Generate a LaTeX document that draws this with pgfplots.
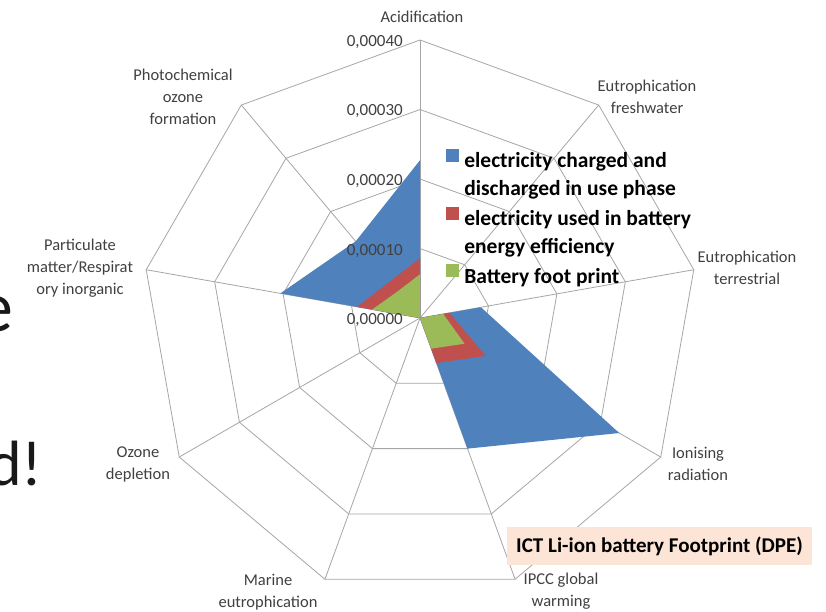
\documentclass[border=0pt]{standalone}
\usepackage{fontspec}
\setmainfont{Carlito}
\usepackage{pgfplots}
\pgfplotsset{compat=1.18}
\usepgfplotslibrary{polar}
\definecolor{cblue}{HTML}{4F81BD}
\definecolor{cred}{HTML}{C0504D}
\definecolor{cgreen}{HTML}{9BBB59}
\definecolor{cgrid}{HTML}{A6A6A6}
\definecolor{cbox}{HTML}{FCE4D6}
\definecolor{ctext}{HTML}{404040}
\begin{document}
\begin{tikzpicture}
\path[use as bounding box, fill=white] (0pt,0pt) rectangle (826pt,-612pt);
% fragments of slide text behind the chart
\node[anchor=base east, inner sep=0pt, font=\fontsize{72}{72}\selectfont, text=black!90] at (14pt,-331pt) {e};
\node[anchor=base east, inner sep=0pt, font=\fontsize{64}{64}\selectfont, text=black!90] at (43pt,-485pt) {d!};
\begin{polaraxis}[
  at={(420pt,-318pt)}, anchor=center,
  scale only axis, width=556pt, height=556pt,
  xmin=0, xmax=360, ymin=0, ymax=0.0004,
  xtick=\empty, ytick=\empty,
  axis line style={draw=none},
  clip=false,
  legend style={at={(0.547,0.805)}, anchor=north west, draw=none, fill=none,
    inner sep=0pt, font=\bfseries\fontsize{21.5}{26}\selectfont, row sep=7.5pt,
    column sep=3pt, cells={anchor=west}},
  legend image code/.code={\fill[#1] (0pt,-1pt) rectangle (13pt,12pt);},
]
% polygonal grid rings
\addplot[cgrid, line width=0.8pt, forget plot] coordinates {(90,0.0001)(50,0.0001)(10,0.0001)(330,0.0001)(290,0.0001)(250,0.0001)(210,0.0001)(170,0.0001)(130,0.0001)(90,0.0001)};
\addplot[cgrid, line width=0.8pt, forget plot] coordinates {(90,0.0002)(50,0.0002)(10,0.0002)(330,0.0002)(290,0.0002)(250,0.0002)(210,0.0002)(170,0.0002)(130,0.0002)(90,0.0002)};
\addplot[cgrid, line width=0.8pt, forget plot] coordinates {(90,0.0003)(50,0.0003)(10,0.0003)(330,0.0003)(290,0.0003)(250,0.0003)(210,0.0003)(170,0.0003)(130,0.0003)(90,0.0003)};
\addplot[cgrid, line width=0.8pt, forget plot] coordinates {(90,0.0004)(50,0.0004)(10,0.0004)(330,0.0004)(290,0.0004)(250,0.0004)(210,0.0004)(170,0.0004)(130,0.0004)(90,0.0004)};
% spokes
\addplot[cgrid, line width=0.8pt, forget plot] coordinates {(90,0)(90,0.0004)};
\addplot[cgrid, line width=0.8pt, forget plot] coordinates {(50,0)(50,0.0004)};
\addplot[cgrid, line width=0.8pt, forget plot] coordinates {(10,0)(10,0.0004)};
\addplot[cgrid, line width=0.8pt, forget plot] coordinates {(330,0)(330,0.0004)};
\addplot[cgrid, line width=0.8pt, forget plot] coordinates {(290,0)(290,0.0004)};
\addplot[cgrid, line width=0.8pt, forget plot] coordinates {(250,0)(250,0.0004)};
\addplot[cgrid, line width=0.8pt, forget plot] coordinates {(210,0)(210,0.0004)};
\addplot[cgrid, line width=0.8pt, forget plot] coordinates {(170,0)(170,0.0004)};
\addplot[cgrid, line width=0.8pt, forget plot] coordinates {(130,0)(130,0.0004)};
% series (angle = category, radius = value)
\addplot[draw=none, fill=cblue] coordinates {(90,0.000227)(50,0)(10,0.000089)(330,0.000331)(290,0.000200)(250,0)(210,0)(170,0.000204)(130,0.000144)(90,0.000227)};
\addlegendentry{electricity charged and}
\addlegendimage{empty legend}
\addlegendentry{discharged in use phase}
\addplot[draw=none, fill=cred] coordinates {(90,0.000086)(50,0)(10,0.000043)(330,0.000109)(290,0.000069)(250,0)(210,0)(170,0.000092)(130,0.000068)(90,0.000086)};
\addlegendentry{electricity used in battery}
\addlegendimage{empty legend}
\addlegendentry{energy efficiency}
\addplot[draw=none, fill=cgreen] coordinates {(90,0.000063)(50,0)(10,0.000034)(330,0.000074)(290,0.000047)(250,0)(210,0)(170,0.000070)(130,0.000050)(90,0.000063)};
\addlegendentry{Battery foot print}
\end{polaraxis}
% radial tick labels
\begin{scope}[every node/.style={anchor=east, inner sep=0pt, text=ctext, font=\fontsize{17}{17}\selectfont}]
\node at (403pt,-320pt) {0,00000};
\node at (403pt,-251pt) {0,00010};
\node at (403pt,-181pt) {0,00020};
\node at (403pt,-111pt) {0,00030};
\node at (403pt,-42pt) {0,00040};
\end{scope}
% category labels
\begin{scope}[every node/.style={align=center, inner sep=0pt, text=ctext, font=\fontsize{16.5}{22}\selectfont}]
\node at (422pt,-17pt) {Acidification};
\node at (647pt,-97pt) {Eutrophication\\freshwater};
\node at (747pt,-268pt) {Eutrophication\\terrestrial};
\node at (698pt,-464pt) {Ionising\\radiation};
\node at (561pt,-591pt) {IPCC global\\warming};
\node at (268pt,-592pt) {Marine\\eutrophication};
\node at (138pt,-464pt) {Ozone\\depletion};
\node at (80pt,-268pt) {Particulate\\matter/Respirat\\ory inorganic};
\node at (183pt,-97pt) {Photochemical\\ozone\\formation};
\end{scope}
% chart title box
\node[fill=cbox, minimum width=305pt, minimum height=38pt, inner sep=0pt, font=\bfseries\fontsize{21}{21}\selectfont, text=black] at (659.5pt,-546pt) {ICT Li-ion battery Footprint (DPE)};
\end{tikzpicture}
\end{document}
